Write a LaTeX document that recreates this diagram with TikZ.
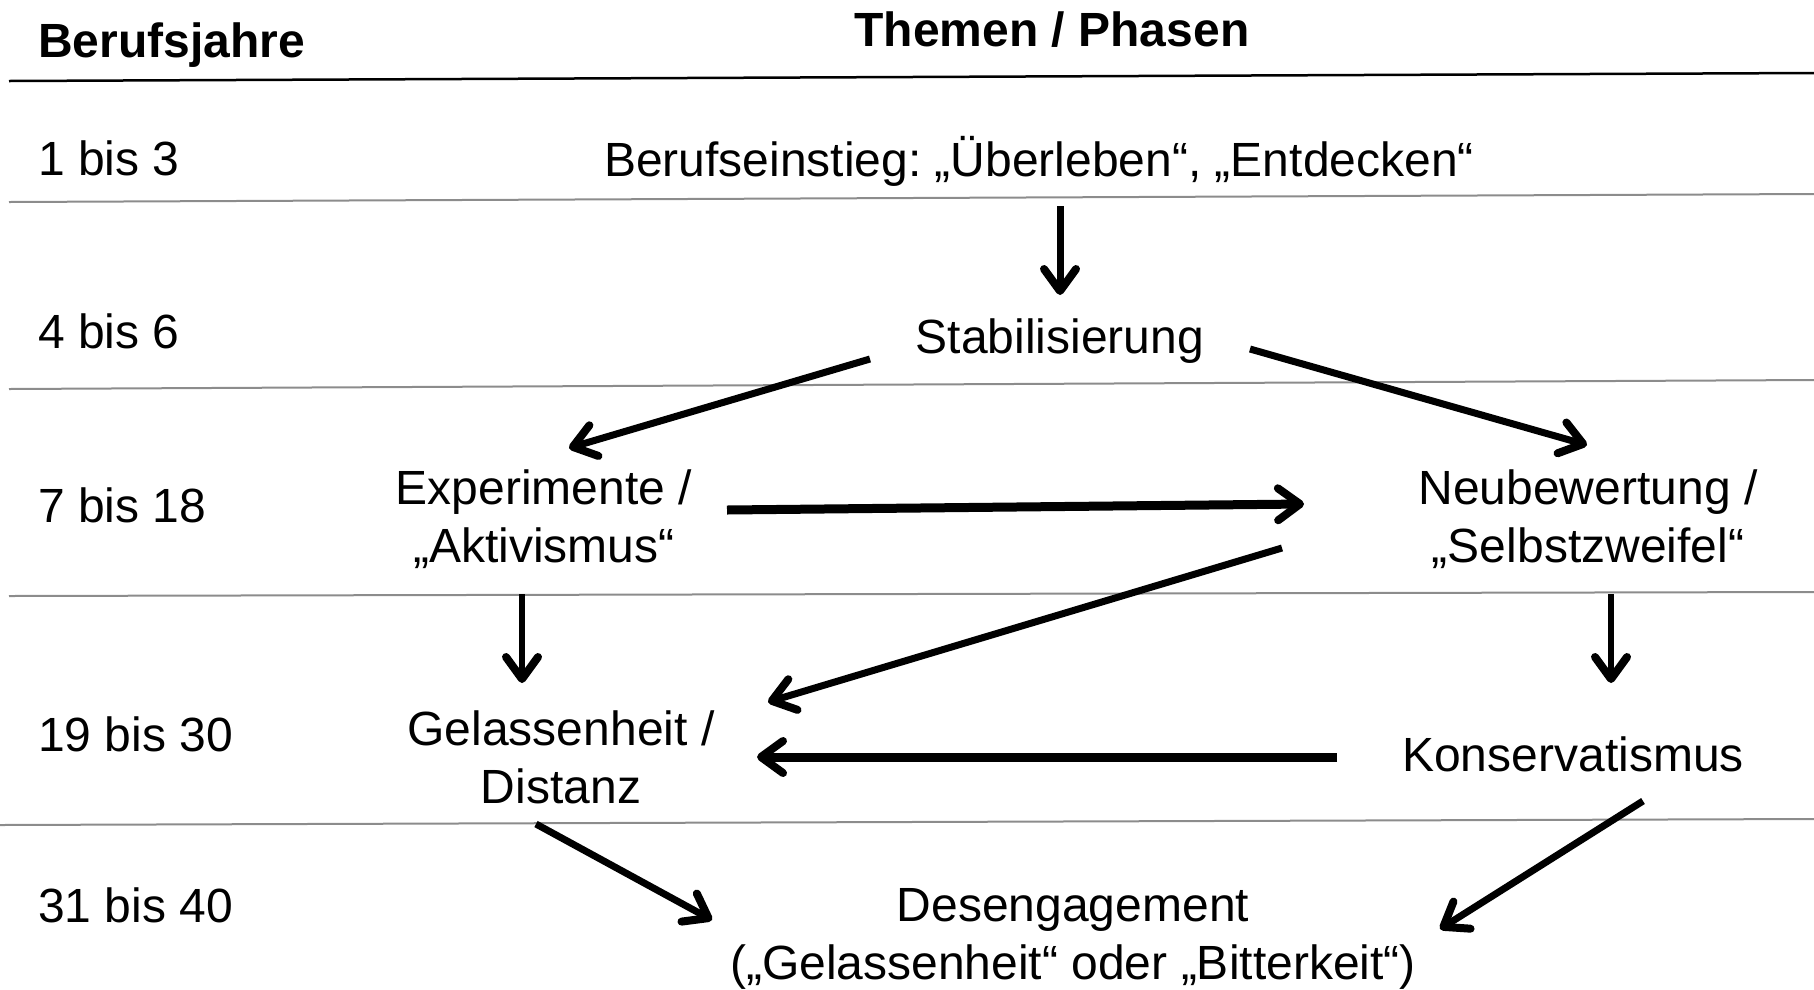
\documentclass[tikz,border=0pt]{standalone}
\usepackage{fontspec}
\setmainfont{Liberation Sans}
\usetikzlibrary{arrows.meta,calc}
\definecolor{rulegray}{RGB}{140,140,140}
\frenchspacing
\begin{document}
\begin{tikzpicture}[x=1pt,y=-1pt,
  lbl/.style={inner sep=0pt,font=\fontsize{48}{57.5}\selectfont},
  hdr/.style={lbl,font=\fontsize{48}{57.5}\selectfont\bfseries},
  yr/.style={lbl,anchor=base west},
  phase/.style={lbl,anchor=base,align=center},
  rowline/.style={draw=rulegray,line width=2pt},
  topline/.style={draw=black,line width=2.5pt},
  flow/.style={line width=7pt,-{Straight Barb[round,length=22pt,width=32pt,line width=8pt]}},
  flowthick/.style={line width=9pt,-{Straight Barb[round,length=22pt,width=32pt,line width=8pt]}},
  flowthin/.style={line width=6pt,-{Straight Barb[round,length=22pt,width=32pt,line width=8pt]}}]
\useasboundingbox (0,0) rectangle (1814,989);
% rules
\coordinate (r0a) at (9,81);  \coordinate (r0b) at (1814,73);
\coordinate (r1a) at (9,202); \coordinate (r1b) at (1814,194);
\coordinate (r2a) at (9,389); \coordinate (r2b) at (1814,380);
\coordinate (r3a) at (9,596); \coordinate (r3b) at (1814,592);
\coordinate (r4a) at (0,825); \coordinate (r4b) at (1814,819);
\draw[topline] (r0a) -- (r0b);
\draw[rowline] (r1a) -- (r1b);
\draw[rowline] (r2a) -- (r2b);
\draw[rowline] (r3a) -- (r3b);
\draw[rowline] (r4a) -- (r4b);
% headers
\node[hdr,anchor=base west] (hyears) at (38,57) {Berufsjahre};
\node[hdr,anchor=base] (hphases) at (1052,46) {Themen / Phasen};
% years
\node[yr] (y1) at (38,175) {1 bis 3};
\node[yr] (y2) at (38,348) {4 bis 6};
\node[yr] (y3) at (38,522) {7 bis 18};
\node[yr] (y4) at (38,751) {19 bis 30};
\node[yr] (y5) at (38,922) {31 bis 40};
% phases (base = baseline of last line)
\node[phase] (ein) at (1039,176) {Berufseinstieg: „Überleben“, „Entdecken“};
\node[phase] (stab) at (1060,353) {Stabilisierung};
\node[phase] (exp) at (544,562) {Experimente /\\„Aktivismus“};
\node[phase] (neu) at (1588,562) {Neubewertung /\\„Selbstzweifel“};
\node[phase] (gel) at (561,803) {Gelassenheit /\\Distanz};
\node[phase] (kon) at (1573,771) {Konservatismus};
\node[phase] (des) at (1073,979) {Desengagement\\(„Gelassenheit“ oder „Bitterkeit“)};
% arrows
\draw[flow] ($(ein.base)+(21,30)$) -- ($(stab.base)+(0,-58)$);
\draw[flow] ($(stab.base)+(-190,6)$) -- ($(exp.base)+(25,-114)$);
\draw[flow] ($(stab.base)+(190,-4)$) -- ($(neu.base)+(-1,-117)$);
\draw[flowthick] ($(exp.base)+(183,-52)$) -- ($(neu.base)+(-284,-58)$);
\draw[flow] ($(neu.base)+(-306,-14)$) -- ($(gel.base)+(207,-101)$);
\draw[flowthin] ($(exp.base)+(-22,32)$) -- ($(gel.base)+(-39,-120)$);
\draw[flowthin] ($(neu.base)+(23,32)$) -- ($(kon.base)+(38,-88)$);
\draw[flowthick] ($(kon.base)+(-236,-14)$) -- ($(gel.base)+(196,-46)$);
\draw[flow] ($(gel.base)+(-25,21)$) -- ($(des.base)+(-361,-59)$);
\draw[flow] ($(kon.base)+(70,30)$) -- ($(des.base)+(367,-50)$);
\end{tikzpicture}
\end{document}
